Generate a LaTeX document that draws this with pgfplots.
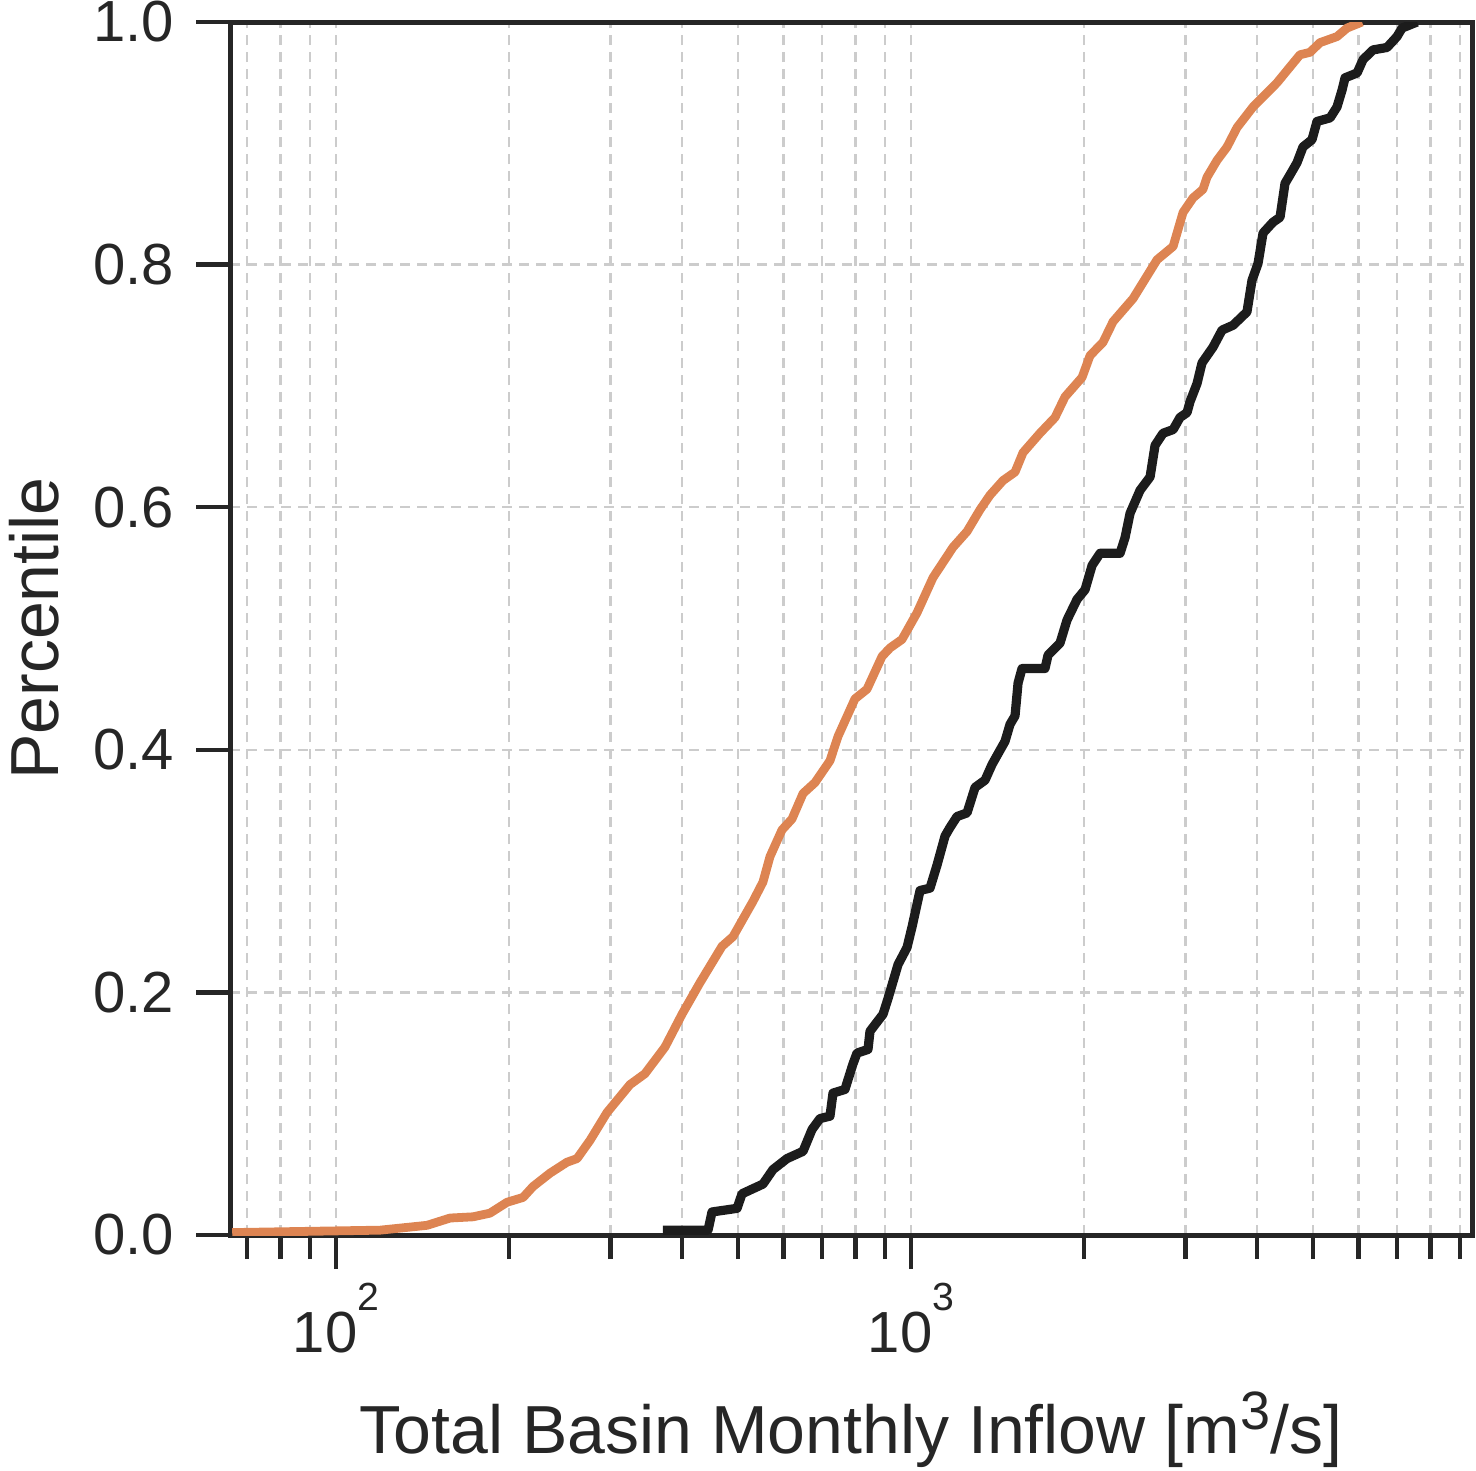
\documentclass[border=0pt]{standalone}
\usepackage{pgfplots}
\pgfplotsset{compat=1.18}
\usepackage{fontspec}
\setmainfont{Liberation Sans}
\definecolor{corange}{HTML}{DD8452}
\definecolor{cblack}{HTML}{1C1C1C}
\definecolor{caxis}{HTML}{262626}
\definecolor{cgrid}{HTML}{CCCCCC}
\newcommand{\supA}[1]{\raisebox{10.5pt}{\fontsize{9.8}{11}\selectfont #1}}
\newcommand{\supB}[1]{\raisebox{6pt}{\fontsize{13.5}{14}\selectfont #1}}
\begin{document}
\begin{tikzpicture}
\begin{axis}[
  name=ax,
  xmode=log,
  scale only axis,
  width=310.5pt, height=303.25pt,
  xmin=65.41, xmax=9454,
  ymin=0, ymax=1,
  xtick={100,1000},
  xticklabels={10\supA{2},10\supA{3}},
  minor xtick={70,80,90,200,300,400,500,600,700,800,900,2000,3000,4000,5000,6000,7000,8000,9000},
  ytick={0,0.2,0.4,0.6,0.8,1.0},
  yticklabels={0.0,0.2,0.4,0.6,0.8,1.0},
  axis line style={caxis, line width=1.25pt},
  tick style={caxis, line width=1.1pt},
  tick align=outside,
  xtick pos=left, ytick pos=left,
  major tick length=8.5pt, minor tick length=6pt,
  xmajorgrids, xminorgrids, ymajorgrids,
  major grid style={cgrid, line width=0.6pt, dash pattern=on 2.5pt off 1.75pt},
  minor grid style={cgrid, line width=0.6pt, dash pattern=on 2.5pt off 1.75pt},
  ticklabel style={font=\fontsize{14.5}{17}\selectfont, text=caxis},
  yticklabel style={xshift=-2pt},
  label style={font=\fontsize{17}{20}\selectfont, text=caxis},
  xlabel={Total Basin Monthly Inflow [m\supB{3}/s]},
  ylabel={Percentile},
  xlabel style={at={(axis description cs:0.5,-0.1797)}, anchor=base},
  ylabel style={at={(axis description cs:-0.1377,0.5)}, anchor=base},
]
\addplot[corange, line width=2.2pt, line join=round] table {
x y
66 0.002
119.3 0.004
144.0 0.008
157.9 0.014
173.1 0.015
185.2 0.018
198.4 0.027
211.5 0.031
220.1 0.040
235.6 0.051
252.1 0.060
262.5 0.063
276.5 0.078
296.0 0.101
324.5 0.124
344.6 0.133
373.4 0.155
399.7 0.182
429.5 0.208
469.1 0.238
490.2 0.246
531.0 0.275
552.7 0.291
568.5 0.312
596.5 0.334
620.9 0.343
648.9 0.364
680.8 0.373
722.9 0.391
746.4 0.411
799.0 0.442
838.4 0.450
890.4 0.477
919.4 0.484
964.5 0.491
1024.3 0.513
1092.0 0.542
1183.0 0.567
1251.4 0.580
1318.3 0.598
1372.2 0.610
1445.4 0.622
1516.6 0.629
1565.9 0.645
1676.0 0.661
1780.0 0.674
1852.7 0.691
1983.4 0.707
2047.9 0.725
2157.4 0.736
2245.6 0.753
2432.9 0.772
2678.1 0.804
2856.4 0.815
2971.8 0.843
3093.1 0.855
3218.5 0.862
3271.0 0.872
3405.5 0.886
3544.7 0.897
3689.8 0.913
3934.0 0.930
4331.4 0.950
4561.2 0.963
4747.6 0.973
4941.6 0.975
5143.5 0.983
5506.0 0.988
5731.0 0.995
6085.0 1.000
};
\addplot[cblack, line width=2.3pt, line join=round] table {
x y
370.4 0.004
443.6 0.004
450.7 0.019
498.2 0.022
508.3 0.034
552.7 0.042
575.4 0.054
608.5 0.063
648.9 0.069
672.7 0.087
694.6 0.096
722.9 0.098
731.6 0.117
767.6 0.120
792.6 0.141
805.5 0.150
841.7 0.153
848.5 0.168
893.9 0.182
912.0 0.195
949.3 0.223
984.0 0.237
1004.0 0.254
1036.7 0.284
1079.0 0.286
1109.7 0.305
1146.0 0.329
1168.9 0.336
1202.3 0.345
1251.4 0.348
1292.2 0.369
1345.0 0.375
1383.4 0.388
1457.0 0.407
1486.5 0.421
1516.6 0.428
1535.0 0.455
1559.6 0.467
1710.0 0.467
1730.8 0.478
1815.9 0.488
1867.7 0.507
1944.1 0.524
2007.3 0.532
2064.6 0.552
2131.8 0.562
2309.4 0.562
2356.2 0.575
2403.9 0.595
2502.2 0.614
2604.5 0.625
2656.9 0.651
2743.9 0.661
2856.4 0.664
2936.4 0.674
3019.9 0.678
3056.3 0.687
3143.4 0.702
3207.0 0.719
3351.3 0.732
3474.6 0.746
3630.8 0.750
3839.6 0.761
3917.3 0.787
4012.9 0.801
4094.1 0.826
4261.6 0.835
4382.2 0.839
4470.9 0.867
4561.2 0.874
4690.4 0.884
4804.1 0.897
4980.9 0.903
5081.7 0.918
5355.8 0.921
5506.0 0.930
5618.7 0.944
5686.5 0.954
5966.8 0.958
6110.6 0.969
6360.4 0.977
6726.4 0.979
7001.3 0.988
7143.0 0.995
7585.8 1.000
};
\end{axis}
\pgfresetboundingbox
\path ([shift={(-57.5pt,-58.75pt)}]ax.south west) rectangle ([shift={(1pt,5.5pt)}]ax.north east);
\end{tikzpicture}
\end{document}
